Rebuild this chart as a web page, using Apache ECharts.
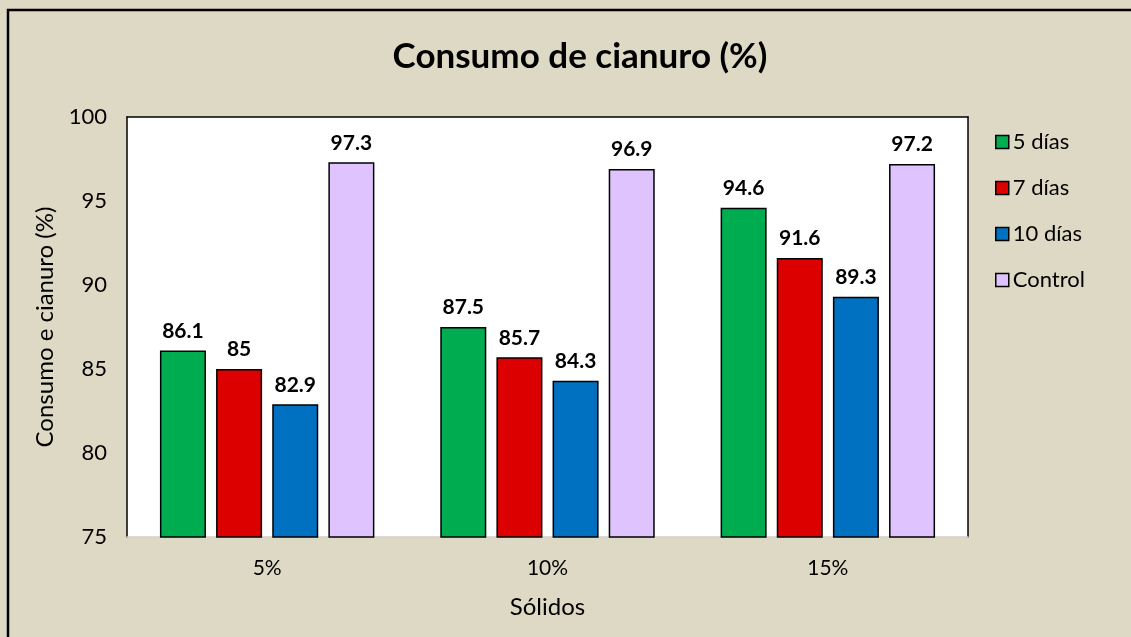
<!DOCTYPE html>
<html>
<head>
<meta charset="utf-8">
<script src="https://cdn.jsdelivr.net/npm/echarts@6/dist/echarts.min.js"></script>
<style>
  html, body { margin: 0; padding: 0; background: #DDD9C4; }
  #chart { width: 1131px; height: 637px; }
</style>
</head>
<body>
<div id="chart"></div>
<script>
// Cyanide consumption per solids level and leach time
const categories = ['5%', '10%', '15%'];
const dias5 = [86.1, 87.5, 94.6];
const dias7 = [85, 85.7, 91.6];
const dias10 = [82.9, 84.3, 89.3];
const control = [97.3, 96.9, 97.2];
const seriesNames = ['5 días', '7 días', '10 días', 'Control'];
const seriesColors = ['#00AC50', '#DD0000', '#0070C0', '#DFC3FF'];
const yTicks = { min: 75, max: 100, step: 5 };

const FONT = 'Lato, "Open Sans", sans-serif';

const chart = echarts.init(document.getElementById('chart'));

const seriesData = [dias5, dias7, dias10, control];

chart.setOption({
  backgroundColor: '#DDD9C4',
  animation: false,
  textStyle: { fontFamily: FONT },
  title: {
    text: 'Consumo de cianuro (%)',
    left: 575,
    top: 34,
    textAlign: 'center',
    textStyle: { fontFamily: FONT, fontSize: 35, fontWeight: 'bold', color: '#000' }
  },
  graphic: [{
    type: 'rect',
    shape: { x: 8, y: 10, width: 1200, height: 700 },
    style: { fill: 'none', stroke: '#000', lineWidth: 2.5 },
    silent: true,
    z: 100
  }],
  legend: {
    orient: 'vertical',
    left: 990,
    top: 126,
    itemGap: 24,
    itemWidth: 13,
    itemHeight: 13,
    icon: 'rect',
    textStyle: { fontFamily: FONT, fontSize: 22, color: '#000', padding: [0, 0, 0, -1] },
    data: seriesNames.map(n => ({ name: n, itemStyle: { borderColor: '#000', borderWidth: 1.5 } }))
  },
  grid: {
    left: 127, right: 163, top: 117, bottom: 100,
    show: true, backgroundColor: '#fff', borderWidth: 0
  },
  xAxis: [{
    type: 'category',
    data: categories,
    name: 'Sólidos',
    nameLocation: 'middle',
    nameGap: 58,
    nameTextStyle: { fontFamily: FONT, fontSize: 24, color: '#000' },
    axisLine: { lineStyle: { color: '#D0D0D0', width: 1.5 } },
    axisTick: { show: false },
    axisLabel: { fontFamily: FONT, fontSize: 21, color: '#000', margin: 21 }
  }, {
    type: 'category',
    data: categories,
    position: 'top',
    axisLine: { lineStyle: { color: '#000', width: 1.5 } },
    axisTick: { show: false },
    axisLabel: { show: false }
  }],
  yAxis: [{
    type: 'value',
    min: yTicks.min,
    max: yTicks.max,
    interval: yTicks.step,
    name: 'Consumo e cianuro (%)',
    nameLocation: 'middle',
    nameGap: 70,
    nameTextStyle: { fontFamily: FONT, fontSize: 24, color: '#000' },
    axisLine: { show: true, lineStyle: { color: '#000', width: 1.5 } },
    axisTick: { show: false },
    splitLine: { show: false },
    axisLabel: { fontFamily: FONT, fontSize: 22, color: '#000', margin: 20 }
  }, {
    type: 'value',
    min: yTicks.min,
    max: yTicks.max,
    interval: yTicks.step,
    position: 'right',
    axisLine: { show: true, lineStyle: { color: '#000', width: 1.5 } },
    axisTick: { show: false },
    splitLine: { show: false },
    axisLabel: { show: false }
  }],
  series: seriesNames.map((name, i) => ({
    name,
    type: 'bar',
    data: seriesData[i],
    barGap: '22%',
    barCategoryGap: '23.5%',
    itemStyle: { color: seriesColors[i], borderColor: '#000', borderWidth: 1.5 },
    label: {
      show: true,
      position: 'top',
      distance: 9,
      fontFamily: FONT,
      fontSize: 21,
      fontWeight: 'bold',
      color: '#000'
    }
  }))
});
</script>
</body>
</html>
